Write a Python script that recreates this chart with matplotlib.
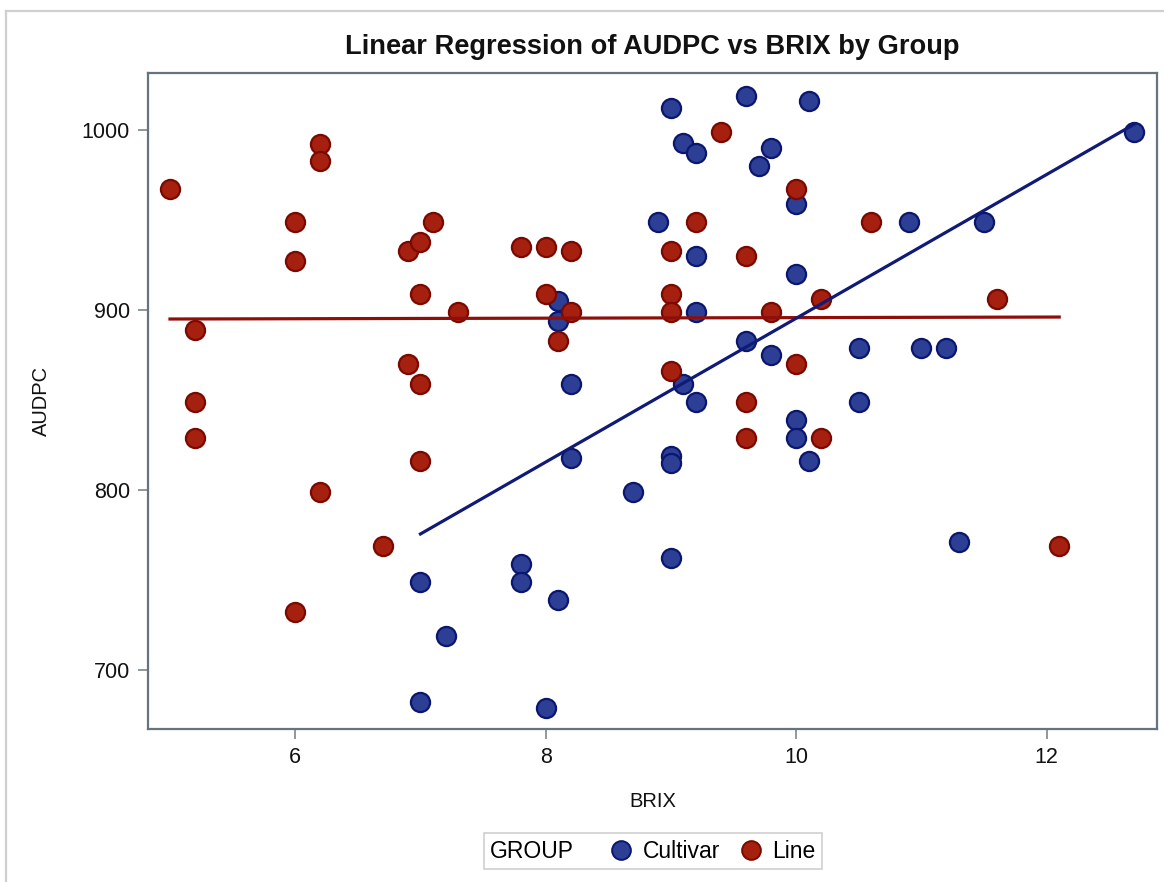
import numpy as np
import matplotlib.pyplot as plt
from matplotlib.lines import Line2D
from matplotlib.offsetbox import HPacker

plt.rcParams['font.family'] = ['Liberation Sans', 'DejaVu Sans']

# Cultivar group (blue)
cultivar_brix = [7.0, 7.0, 7.2, 7.8, 7.8, 8.0, 8.1, 8.1, 8.1, 8.2, 8.2, 8.7, 8.9, 9.0,
                 9.0, 9.0, 9.0, 9.1, 9.1, 9.2, 9.2, 9.2, 9.2, 9.6, 9.6, 9.7, 9.8, 9.8,
                 10.0, 10.0, 10.0, 10.0, 10.1, 10.1, 10.5, 10.5, 10.9, 11.0, 11.2, 11.3,
                 11.5, 12.7]
cultivar_audpc = [749, 682, 719, 759, 749, 679, 739, 905, 894, 859, 818, 799, 949, 1012,
                  819, 815, 762, 993, 859, 987, 930, 899, 849, 1019, 883, 980, 990, 875,
                  959, 920, 839, 829, 1016, 816, 879, 849, 949, 879, 879, 771,
                  949, 999]

# Line group (red)
line_brix = [5.0, 5.2, 5.2, 5.2, 6.0, 6.0, 6.0, 6.2, 6.2, 6.2, 6.7, 6.9, 7.0, 7.1,
             6.9, 7.0, 7.0, 7.0, 7.3, 7.8, 8.0, 8.0, 8.1, 8.2, 8.2, 9.0, 9.0, 9.0,
             9.0, 9.2, 9.4, 9.6, 9.6, 9.6, 9.8, 10.0, 10.0, 10.2, 10.2, 10.6, 11.6, 12.1]
line_audpc = [967, 889, 849, 829, 949, 927, 732, 992, 983, 799, 769, 933, 938, 949,
              870, 909, 859, 816, 899, 935, 935, 909, 883, 933, 899, 933, 909, 899,
              866, 949, 999, 930, 849, 829, 899, 967, 870, 906, 829, 949, 906, 769]

x_ticks = [6, 8, 10, 12]
y_ticks = [700, 800, 900, 1000]

blue_face, blue_edge, blue_line = '#2c3f95', '#0b166e', '#101a78'
red_face, red_edge, red_line = '#a5200f', '#7a0900', '#8e0f0a'

fig = plt.figure(figsize=(11.64, 8.82), dpi=100)
ax = fig.add_axes([0.1271, 0.1735, 0.8668, 0.7437])

# outer frame (top and left edges visible)
fig.add_artist(Line2D([6 / 1164, 6 / 1164], [0, 1 - 11 / 882], transform=fig.transFigure,
                      color='#cfcfcf', lw=1.6))
fig.add_artist(Line2D([6 / 1164, 1], [1 - 11 / 882, 1 - 11 / 882], transform=fig.transFigure,
                      color='#cfcfcf', lw=1.6))

ax.scatter(cultivar_brix, cultivar_audpc, s=190, c=blue_face, edgecolors=blue_edge,
           linewidths=1.6, zorder=2)
ax.scatter(line_brix, line_audpc, s=190, c=red_face, edgecolors=red_edge,
           linewidths=1.6, zorder=2)

# fitted regression lines per group
for xs, ys, col in [(line_brix, line_audpc, red_line), (cultivar_brix, cultivar_audpc, blue_line)]:
    xs = np.array(xs)
    slope, intercept = np.polyfit(xs, ys, 1)
    xf = np.array([xs.min(), xs.max()])
    ax.plot(xf, slope * xf + intercept, color=col, lw=2.3, zorder=3)

ax.set_xlim(4.824, 12.88)
ax.set_ylim(667.2, 1031.7)
ax.set_xticks(x_ticks)
ax.set_yticks(y_ticks)
ax.tick_params(axis='both', direction='out', length=7, width=1.2, color='#7a868c',
               labelsize=15.5, pad=6, labelcolor='#111111')
for sp in ax.spines.values():
    sp.set_color('#66757d')
    sp.set_linewidth(1.6)

ax.set_xlabel('BRIX', fontsize=14.5, color='#111111', labelpad=17)
ax.set_ylabel('AUDPC', fontsize=14.5, color='#111111', labelpad=22)

fig.text(0.560, 0.9467, 'Linear Regression of AUDPC vs BRIX by Group', ha='center',
         va='center', fontsize=19.6, fontweight='bold', color='#111111')

handles = [Line2D([], [], linestyle='none', marker='o', markersize=13.5, markerfacecolor=blue_face,
                  markeredgecolor=blue_edge, markeredgewidth=1.4),
           Line2D([], [], linestyle='none', marker='o', markersize=13.5, markerfacecolor=red_face,
                  markeredgecolor=red_edge, markeredgewidth=1.4)]
leg = fig.legend(handles, ['Cultivar', 'Line'], ncol=2, loc='center',
                 bbox_to_anchor=(0.561, 0.035), fontsize=16.5, frameon=True, fancybox=False,
                 title='GROUP', title_fontsize=16.5,
                 handlelength=0.9, handletextpad=0.5, columnspacing=0.9,
                 borderpad=0.28, edgecolor='#c4c4c4')
leg.get_frame().set_linewidth(1.2)
# put the legend title beside the entries, like the SAS legend
old_box = leg._legend_box
leg._legend_box = HPacker(pad=old_box.pad, sep=26, align='center',
                          children=[leg._legend_title_box, leg._legend_handle_box])
leg._legend_box.set_figure(fig)
leg._legend_box.axes = leg.axes
leg._legend_box.set_offset(leg._findoffset)

fig.savefig('out.png', dpi=100)
